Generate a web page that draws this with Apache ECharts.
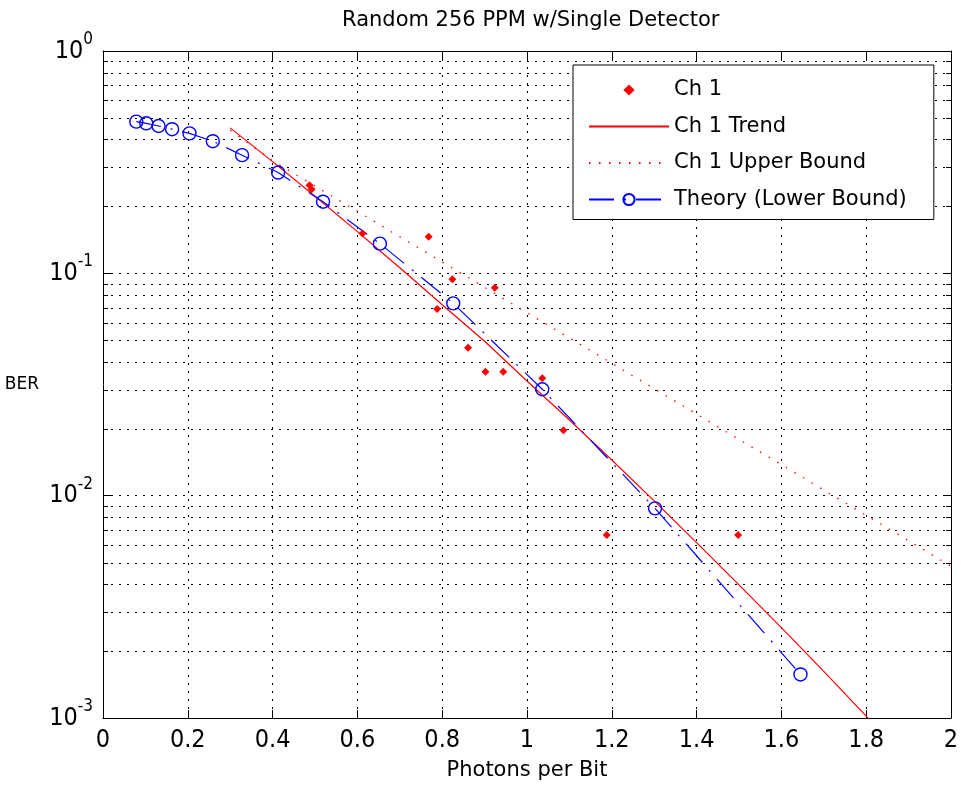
<!DOCTYPE html>
<html>
<head>
<meta charset="utf-8">
<script src="https://cdn.jsdelivr.net/npm/echarts@6/dist/echarts.min.js"></script>
<style>
html,body{margin:0;padding:0;background:#fff;}
#chart{width:961px;height:788px;}
</style>
</head>
<body>
<div id="chart"></div>
<script>
// ---- data ----
const titleText = 'Random 256 PPM w/Single Detector';
const xAxisName = 'Photons per Bit';
const yAxisName = 'BER';
const xTicks = [0, 0.2, 0.4, 0.6, 0.8, 1, 1.2, 1.4, 1.6, 1.8, 2];
const yDecades = [0.001, 0.01, 0.1, 1];
const yMinorTicks = [
  0.002,0.003,0.004,0.005,0.006,0.007,0.008,0.009,
  0.02,0.03,0.04,0.05,0.06,0.07,0.08,0.09,
  0.2,0.3,0.4,0.5,0.6,0.7,0.8,0.9
];
const seriesNames = ['Ch 1', 'Ch 1 Trend', 'Ch 1 Upper Bound', 'Theory (Lower Bound)'];

const ch1X = [0.487, 0.492, 0.612, 0.768, 0.788, 0.824, 0.861, 0.902, 0.924, 0.944, 1.036, 1.086, 1.188, 1.498];
const ch1Y = [0.249, 0.239, 0.151, 0.146, 0.0691, 0.0940, 0.0463, 0.0361, 0.0861, 0.0361, 0.0337, 0.0197, 0.00665, 0.00665];

const trendX = [0.3, 0.4, 0.5, 0.6, 0.7, 0.8, 0.9, 1.0, 1.1, 1.2, 1.3, 1.4, 1.5, 1.6, 1.7, 1.8, 1.81];
const trendY = [0.451, 0.318, 0.222, 0.154, 0.106, 0.0722, 0.0495, 0.0328, 0.0219, 0.01446, 0.00948, 0.00615, 0.00397, 0.00255, 0.00162, 0.00102, 0.00097];

const upperX = [0.3, 0.4, 0.5, 0.6, 0.7, 0.8, 0.9, 1.0, 1.1, 1.2, 1.3, 1.4, 1.5, 1.6, 1.7, 1.8, 1.9, 2.0];
const upperY = [0.44, 0.321, 0.247, 0.190, 0.146, 0.1125, 0.0865, 0.0665, 0.0512, 0.0394, 0.0303, 0.0233, 0.0179, 0.0138, 0.0106, 0.00815, 0.00627, 0.00482];

const theoryX = [0.0786, 0.102, 0.131, 0.163, 0.204, 0.259, 0.328, 0.413, 0.519, 0.653, 0.826, 1.036, 1.302, 1.645];
const theoryY = [0.481, 0.473, 0.460, 0.445, 0.426, 0.393, 0.340, 0.284, 0.210, 0.136, 0.0733, 0.0301, 0.00877, 0.00157];

// ---- helpers ----
const zip = (xs, ys) => xs.map((x, i) => [x, ys[i]]);
const NUM_FONT = "'Liberation Sans Narrow', 'DejaVu Sans Condensed', 'Liberation Sans', sans-serif";
const TXT_FONT = "'DejaVu Sans', sans-serif";
const gridDot = [2, 6];

const chart = echarts.init(document.getElementById('chart'), null, {renderer: 'canvas'});

const option = {
  animation: false,
  backgroundColor: '#ffffff',
  title: {
    text: titleText,
    left: 337,
    top: 5,
    textStyle: {fontFamily: TXT_FONT, fontSize: 21, fontWeight: 'normal', color: '#000'}
  },
  grid: {left: 103, right: 10, top: 51, bottom: 70, containLabel: false, outerBoundsMode: 'none'},
  legend: {
    data: seriesNames.map(n => ({name: n})),
    orient: 'vertical',
    left: 573,
    top: 65,
    itemWidth: 80,
    itemHeight: 14,
    itemGap: 12.5,
    padding: [13, 27, 8, 15],
    borderColor: '#000',
    borderWidth: 1,
    borderRadius: 0,
    backgroundColor: '#fff',
    selectedMode: false,
    textStyle: {fontFamily: TXT_FONT, fontSize: 21, color: '#000', lineHeight: 24}
  },
  xAxis: [{
    type: 'value', min: xTicks[0], max: xTicks[xTicks.length - 1], interval: 0.2,
    position: 'bottom',
    name: xAxisName, nameLocation: 'middle', nameGap: 42,
    nameTextStyle: {fontFamily: TXT_FONT, fontSize: 21, color: '#000'},
    axisLine: {show: true, onZero: false, lineStyle: {color: '#000', width: 1}},
    axisTick: {show: true, inside: true, length: 8, lineStyle: {color: '#000'}},
    axisLabel: {show: true, margin: 10, fontFamily: NUM_FONT, fontSize: 25, color: '#000',
      formatter: v => String(Math.round(v * 10) / 10)},
    splitLine: {show: true, lineStyle: {color: '#000', width: 1, type: gridDot}}
  }, {
    type: 'value', min: xTicks[0], max: xTicks[xTicks.length - 1], interval: 0.2,
    position: 'top',
    axisLine: {show: true, onZero: false, lineStyle: {color: '#000', width: 1}},
    axisTick: {show: true, inside: true, length: 8, lineStyle: {color: '#000'}},
    axisLabel: {show: false},
    splitLine: {show: false}
  }],
  yAxis: [{
    type: 'log', logBase: 10, min: yDecades[0], max: yDecades[yDecades.length - 1],
    position: 'left',
    name: yAxisName, nameLocation: 'middle', nameRotate: 0, nameGap: 64,
    nameTextStyle: {fontFamily: TXT_FONT, fontSize: 17, color: '#000'},
    axisLine: {show: true, onZero: false, lineStyle: {color: '#000', width: 1}},
    axisTick: {show: true, inside: true, length: 8, lineStyle: {color: '#000'}},
    axisLabel: {
      show: true, margin: 10,
      formatter: v => '{b|10}{s|' + Math.round(Math.log10(v)) + '}',
      rich: {
        b: {fontFamily: NUM_FONT, fontSize: 25, color: '#000', lineHeight: 40},
        s: {fontFamily: NUM_FONT, fontSize: 17, color: '#000', verticalAlign: 'top', lineHeight: 17}
      }
    },
    splitLine: {show: true, lineStyle: {color: '#000', width: 1, type: gridDot}}
  }, {
    type: 'log', logBase: 10, min: yDecades[0], max: yDecades[yDecades.length - 1],
    position: 'right',
    axisLine: {show: true, onZero: false, lineStyle: {color: '#000', width: 1}},
    axisTick: {show: true, inside: true, length: 8, lineStyle: {color: '#000'}},
    axisLabel: {show: false},
    splitLine: {show: false}
  }],
  series: [
    {
      name: 'minor-grid',
      type: 'custom',
      silent: true,
      xAxisIndex: 0, yAxisIndex: 0,
      clip: false,
      z: 1,
      data: yMinorTicks.map(v => [xTicks[0], v]),
      renderItem: function (params, api) {
        const cs = params.coordSys;
        const y = Math.round(api.coord([api.value(0), api.value(1)])[1]) + 0.5;
        const x0 = cs.x, x1 = cs.x + cs.width;
        return {
          type: 'group',
          children: [
            {type: 'line', shape: {x1: x0, y1: y, x2: x1, y2: y},
              style: {stroke: '#000', lineWidth: 1, lineDash: gridDot}},
            {type: 'line', shape: {x1: x0, y1: y, x2: x0 + 5, y2: y},
              style: {stroke: '#000', lineWidth: 1}},
            {type: 'line', shape: {x1: x1 - 5, y1: y, x2: x1, y2: y},
              style: {stroke: '#000', lineWidth: 1}}
          ]
        };
      }
    },
    {
      name: seriesNames[0],
      type: 'line',
      data: zip(ch1X, ch1Y),
      symbol: 'diamond',
      symbolSize: 8,
      showSymbol: true,
      z: 5,
      itemStyle: {color: '#ff0000', borderWidth: 0},
      lineStyle: {width: 0, opacity: 0, color: '#ff0000'}
    },
    {
      name: seriesNames[1],
      type: 'line',
      data: zip(trendX, trendY),
      symbol: 'none',
      z: 3,
      itemStyle: {color: '#ff0000', opacity: 0},
      lineStyle: {color: '#ff0000', width: 1.2, type: 'solid'}
    },
    {
      name: seriesNames[2],
      type: 'line',
      data: zip(upperX, upperY),
      symbol: 'none',
      z: 3,
      itemStyle: {color: '#ff0000', opacity: 0},
      lineStyle: {color: '#ff0000', width: 1.3, type: [1.5, 8.5]}
    },
    {
      name: seriesNames[3],
      type: 'line',
      data: zip(theoryX, theoryY),
      symbol: 'circle',
      symbolSize: 13,
      showSymbol: true,
      z: 4,
      itemStyle: {color: 'rgba(0,0,0,0)', borderColor: '#0000ff', borderWidth: 1.4},
      lineStyle: {color: '#0000ff', width: 1.2, type: [25, 10, 2, 10]}
    }
  ]
};

chart.setOption(option);
</script>
</body>
</html>
